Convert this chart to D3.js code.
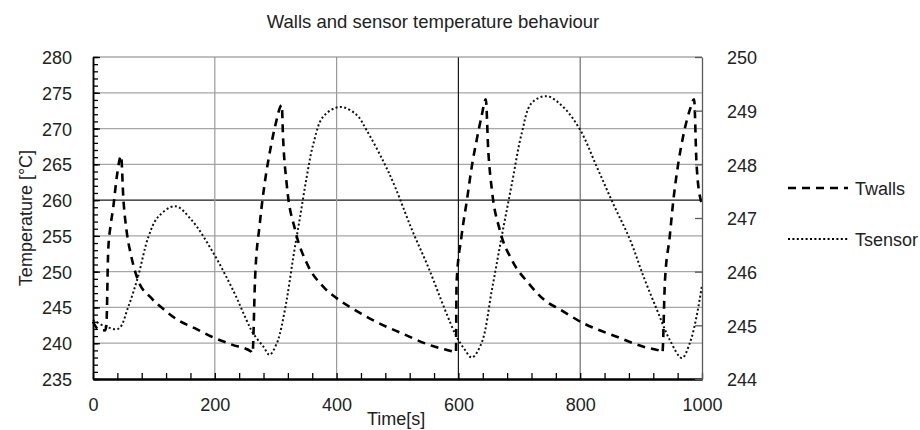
<!DOCTYPE html>
<html>
<head>
<meta charset="utf-8">
<script src="https://cdn.jsdelivr.net/npm/d3@7"></script>
<style>
  html, body { margin: 0; padding: 0; background: #fff; }
  svg { display: block; font-family: "Liberation Sans", Arial, sans-serif; }
</style>
</head>
<body>
<svg id="chart" width="920" height="430"></svg>
<script>
// ---- data ----
const title = "Walls and sensor temperature behaviour";
const xLabel = "Time[s]";
const yLabel = "Temperature [°C]";
const seriesNames = ["Twalls", "Tsensor"];

const xTicks = [0, 200, 400, 600, 800, 1000];
const yLeftTicks = [235, 240, 245, 250, 255, 260, 265, 270, 275, 280];
const yRightTicks = [244, 245, 246, 247, 248, 249, 250];

// Twalls (left axis)
const twallsTime = [0, 8, 20, 22, 25, 29, 33, 39, 46, 50, 55, 63, 74, 96, 118, 140, 167, 195, 228, 260, 262,
  266, 274, 282, 291, 299, 310, 312, 318, 332, 351, 378, 400, 427, 482, 504, 551, 592, 596,
  597, 605, 614, 622, 630, 638, 645, 649, 655, 668, 688, 715, 748, 761, 805, 860, 904, 934, 935,
  939, 947, 953, 961, 969, 980, 987, 991, 998, 1000];
const twallsTemp = [243.0, 242.0, 241.8, 242.5, 253.0, 256.5, 258.8, 263.2, 266.2, 260.0, 255.8, 252.1, 248.8, 246.3, 244.6, 243.2, 242.1, 240.9, 239.8, 238.8, 238.6,
  248.8, 256.8, 262.4, 267.0, 270.3, 273.3, 268.9, 262.3, 255.8, 251.2, 247.9, 246.3, 244.8, 242.3, 241.5, 239.8, 238.8, 238.7,
  248.4, 254.9, 260.0, 264.7, 268.4, 271.7, 274.1, 267.0, 261.4, 255.8, 251.6, 248.4, 245.6, 245.0, 242.8, 240.9, 239.5, 238.8, 238.7,
  248.4, 254.9, 260.0, 265.1, 268.9, 272.6, 274.1, 265.1, 260.0, 259.5];

// Tsensor (right axis)
const tsensorTime = [0, 20, 42, 58, 74, 91, 107, 135, 162, 195, 231, 252, 263, 280, 290, 302, 307, 318, 329, 340,
  351, 362, 378, 406, 433, 449, 477, 496, 523, 551, 578, 597, 611, 622, 638, 655, 671, 688, 704,
  720, 745, 772, 800, 827, 854, 882, 904, 926, 947, 967, 980, 991, 1000];
const tsensorTemp = [245.1, 244.98, 244.94, 245.35, 245.91, 246.65, 247.02, 247.22, 246.96, 246.4, 245.63, 245.1, 244.85, 244.6, 244.45, 244.67, 244.85, 245.47, 246.28, 247.02,
  247.77, 248.39, 248.89, 249.07, 248.92, 248.64, 248.05, 247.58, 246.8, 246.07, 245.29, 244.79, 244.54, 244.4, 244.67, 245.66, 246.65, 247.65, 248.58,
  249.14, 249.27, 249.07, 248.64, 247.96, 247.27, 246.59, 245.91, 245.29, 244.73, 244.39, 244.67, 245.16, 245.75];

// ---- layout ----
const svg = d3.select("#chart");
const L = 93, R = 702, T = 57, B = 379;

const x = d3.scaleLinear().domain([0, 1000]).range([L, R]);
const yL = d3.scaleLinear().domain([235, 280]).range([B, T]);
const yR = d3.scaleLinear().domain([244, 250]).range([B, T]);

// grid
const grid = svg.append("g");
yLeftTicks.filter(v => v > 235 && v < 280).forEach(v => {
  grid.append("line").attr("x1", L).attr("x2", R).attr("y1", yL(v)).attr("y2", yL(v))
    .attr("stroke", v === 260 ? "#1a1a1a" : "#a6a6a6").attr("stroke-width", 1.2);
});
xTicks.filter(v => v > 0 && v < 1000).forEach(v => {
  grid.append("line").attr("y1", T).attr("y2", B).attr("x1", x(v)).attr("x2", x(v))
    .attr("stroke", v === 600 ? "#1a1a1a" : (v === 800 ? "#6e6e6e" : "#9a9a9a")).attr("stroke-width", 1.2);
});
// top border
grid.append("line").attr("x1", L).attr("x2", R).attr("y1", T).attr("y2", T)
  .attr("stroke", "#808080").attr("stroke-width", 1.2);

// series
const wallsData = twallsTime.map((t, i) => [t, twallsTemp[i]]);
const sensorData = tsensorTime.map((t, i) => [t, tsensorTemp[i]]);

svg.append("path").datum(sensorData)
  .attr("fill", "none").attr("stroke", "#111").attr("stroke-width", 2)
  .attr("stroke-dasharray", "2,2.4")
  .attr("d", d3.line().x(d => x(d[0])).y(d => yR(d[1])).curve(d3.curveCatmullRom.alpha(0.5)));

svg.append("path").datum(wallsData)
  .attr("fill", "none").attr("stroke", "#000").attr("stroke-width", 2.6)
  .attr("stroke-dasharray", "8,6")
  .attr("d", d3.line().x(d => x(d[0])).y(d => yL(d[1])).curve(d3.curveMonotoneX));

// axes
function styleAxis(g, color, width) {
  g.select(".domain").attr("stroke", color).attr("stroke-width", width);
  g.selectAll(".tick line").attr("stroke", color).attr("stroke-width", 1.3);
  g.selectAll("text").attr("font-size", 18).attr("fill", "#222").attr("font-family", "Liberation Sans, Arial, sans-serif");
}

// left minor
const gLm = svg.append("g").attr("transform", `translate(${L},0)`)
  .call(d3.axisLeft(yL).tickValues(d3.range(235, 281, 1)).tickSize(-5).tickSizeOuter(0).tickFormat(""));
styleAxis(gLm, "#000", 1.5);
// left major
const gL = svg.append("g").attr("transform", `translate(${L},0)`)
  .call(d3.axisLeft(yL).tickValues(yLeftTicks).tickSize(-7).tickSizeOuter(0).tickPadding(21).tickFormat(d3.format("d")));
styleAxis(gL, "#000", 1.5);
gL.selectAll("text").attr("dy", "0.36em");

// bottom minor
const gBm = svg.append("g").attr("transform", `translate(0,${B})`)
  .call(d3.axisBottom(x).tickValues(d3.range(0, 1001, 40)).tickSize(-6).tickSizeOuter(0).tickFormat(""));
styleAxis(gBm, "#000", 2.2);
const gB = svg.append("g").attr("transform", `translate(0,${B})`)
  .call(d3.axisBottom(x).tickValues(xTicks).tickSize(0).tickSizeOuter(0).tickPadding(19).tickFormat(d3.format("d")));
styleAxis(gB, "#000", 2.2);

// right axis
const gR = svg.append("g").attr("transform", `translate(${R},0)`)
  .call(d3.axisRight(yR).tickValues(yRightTicks).tickSize(-7).tickSizeOuter(0).tickPadding(25).tickFormat(d3.format("d")));
styleAxis(gR, "#5a5a5a", 1.3);
gR.selectAll("text").attr("dy", "0.38em");

// title & labels
svg.append("text").attr("x", 433).attr("y", 28).attr("text-anchor", "middle")
  .attr("font-size", 18.5).attr("fill", "#222").text(title);
svg.append("text").attr("x", 367).attr("y", 425).attr("text-anchor", "start")
  .attr("font-size", 18).attr("fill", "#222").text(xLabel);
svg.append("text").attr("transform", `translate(32,218) rotate(-90)`).attr("text-anchor", "middle")
  .attr("font-size", 18).attr("fill", "#222").text(yLabel);

// legend
const leg = svg.append("g");
const legY = [188, 239];
const legDash = ["8,6", "2,2.4"];
const legW = [2.6, 2];
seriesNames.forEach((name, i) => {
  leg.append("line").attr("x1", 788).attr("x2", 848).attr("y1", legY[i]).attr("y2", legY[i])
    .attr("stroke", "#000").attr("stroke-width", legW[i]).attr("stroke-dasharray", legDash[i]);
  leg.append("text").attr("x", 855).attr("y", legY[i] + 7).attr("font-size", 18).attr("fill", "#222").text(name);
});
</script>
</body>
</html>
